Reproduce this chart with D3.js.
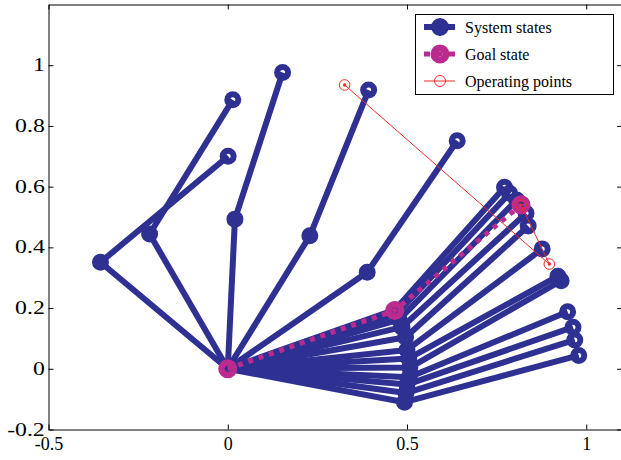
<!DOCTYPE html>
<html>
<head>
<meta charset="utf-8">
<script src="https://cdn.jsdelivr.net/npm/d3@7"></script>
<style>
  html, body { margin: 0; padding: 0; background: #fff; }
  svg { display: block; font-family: "Liberation Serif", "Times New Roman", serif; }
</style>
</head>
<body>
<svg id="chart" width="621" height="460"></svg>
<script>
// Two-link arm: elbow and hand position of each recorded system state
const elbowX = [-0.355, -0.218, 0.020, 0.229, 0.389, 0.466, 0.471, 0.478, 0.486, 0.496, 0.500, 0.505, 0.508, 0.506, 0.500, 0.497, 0.493];
const elbowY = [ 0.351,  0.444, 0.493, 0.438, 0.318, 0.194, 0.180, 0.162, 0.137, 0.104, 0.062, 0.034, 0.004, -0.028, -0.052, -0.080, -0.110];
const handX  = [ 0.001,  0.014, 0.153, 0.393, 0.640, 0.772, 0.786, 0.806, 0.832, 0.838, 0.877, 0.921, 0.930, 0.948, 0.963, 0.968, 0.979];
const handY  = [ 0.700,  0.886, 0.976, 0.918, 0.751, 0.598, 0.578, 0.556, 0.512, 0.470, 0.395, 0.305, 0.290, 0.188, 0.137, 0.095, 0.044];

// Goal configuration: base, elbow, hand
const goalX = [0, 0.466, 0.818];
const goalY = [0, 0.192, 0.540];

// Operating points
const opX = [0.326, 0.897, 0.818];
const opY = [0.935, 0.345, 0.540];

const xTicks = [-0.5, 0, 0.5, 1];
const xTickLabels = ["-0.5", "0", "0.5", "1"];
const yTicks = [-0.2, 0, 0.2, 0.4, 0.6, 0.8, 1];
const yTickLabels = ["-0.2", "0", "0.2", "0.4", "0.6", "0.8", "1"];
const legendLabels = ["System states", "Goal state", "Operating points"];

const blue = "#2e3192", magenta = "#bb2a8e", red = "#ee2a2a";

const svg = d3.select("#chart");
svg.append("rect").attr("width", 621).attr("height", 460).attr("fill", "#fff");

const x = d3.scaleLinear().domain([-0.5, 1.1]).range([48.5, 622.1]);
const y = d3.scaleLinear().domain([-0.2, 1.2]).range([429.5, 4.5]);

const line = d3.line().x(d => x(d[0])).y(d => y(d[1]));

// ---- system states ----
const states = elbowX.map((_, i) => [[0, 0], [elbowX[i], elbowY[i]], [handX[i], handY[i]]]);
const gStates = svg.append("g");
states.forEach(pts => {
  gStates.append("path")
    .attr("d", line(pts))
    .attr("fill", "none")
    .attr("stroke", blue)
    .attr("stroke-width", 6)
    .attr("stroke-linejoin", "round");
  gStates.selectAll(null).data(pts).enter().append("circle")
    .attr("cx", d => x(d[0])).attr("cy", d => y(d[1]))
    .attr("r", 5.5).attr("fill", "none")
    .attr("stroke", blue).attr("stroke-width", 6);
});

// ---- goal state ----
const goalPts = goalX.map((v, i) => [v, goalY[i]]);
svg.append("path")
  .attr("d", line(goalPts))
  .attr("fill", "none")
  .attr("stroke", magenta)
  .attr("stroke-width", 5)
  .attr("stroke-dasharray", "5,5.9");
svg.selectAll(null).data(goalPts).enter().append("circle")
  .attr("cx", d => x(d[0])).attr("cy", d => y(d[1]))
  .attr("r", 6.3).attr("fill", "none")
  .attr("stroke", magenta).attr("stroke-width", 6.5);

// ---- operating points ----
const opPts = opX.map((v, i) => [v, opY[i]]);
svg.append("path")
  .attr("d", line(opPts))
  .attr("fill", "none")
  .attr("stroke", red)
  .attr("stroke-width", 1);
svg.selectAll(null).data(opPts).enter().append("circle")
  .attr("cx", d => x(d[0])).attr("cy", d => y(d[1]))
  .attr("r", 5.3).attr("fill", "none")
  .attr("stroke", red).attr("stroke-width", 1);
svg.selectAll(null).data(opPts).enter().append("circle")
  .attr("cx", d => x(d[0])).attr("cy", d => y(d[1]))
  .attr("r", 1.7).attr("fill", red);

// ---- axes (box with inward ticks) ----
function styleAxis(g, size) {
  g.selectAll("path.domain").attr("stroke", "#000").attr("stroke-width", 1);
  g.selectAll(".tick line").attr("stroke", "#000").attr("stroke-width", 1);
  g.selectAll("text").attr("fill", "#000").attr("font-size", size || 18)
    .attr("font-family", "'Liberation Serif', 'Times New Roman', serif");
}

const xLab = d3.axisBottom(x).tickValues(xTicks)
  .tickFormat((d, i) => xTickLabels[i]).tickSizeInner(-5).tickSizeOuter(0).tickPadding(8);
const gx = svg.append("g").attr("transform", `translate(0,${y(-0.2)})`).call(xLab);
styleAxis(gx);
gx.selectAll("text").attr("y", 0).attr("dy", 20.5);

const gxTop = svg.append("g").attr("transform", `translate(0,${y(1.2)})`)
  .call(d3.axisTop(x).tickValues(xTicks).tickFormat("").tickSizeInner(-5).tickSizeOuter(0));
styleAxis(gxTop);

// y labels use a slightly wider face
const yLab = d3.axisLeft(y).tickValues(yTicks)
  .tickFormat((d, i) => yTickLabels[i]).tickSizeInner(-5).tickSizeOuter(0).tickPadding(3);
const gy = svg.append("g").attr("transform", `translate(${x(-0.5)},0)`).call(yLab);
styleAxis(gy, 19);
gy.selectAll("text").attr("dy", 5.5).attr("transform", "scale(1.25,1)");

const gyRight = svg.append("g").attr("transform", `translate(${x(1.1)},0)`)
  .call(d3.axisRight(y).tickValues(yTicks).tickFormat("").tickSizeInner(-5).tickSizeOuter(0));
styleAxis(gyRight);

// ---- legend ----
const lg = svg.append("g").attr("transform", "translate(415.5,14.5)");
lg.append("rect").attr("width", 198).attr("height", 80)
  .attr("fill", "#fff").attr("stroke", "#000").attr("stroke-width", 1);
const rowY = [12.5, 39.5, 66.5];
const sx0 = 8.5, sx1 = 39.5, sxm = 24.5;

// System states sample
lg.append("line").attr("x1", sx0).attr("x2", sx1).attr("y1", rowY[0]).attr("y2", rowY[0])
  .attr("stroke", blue).attr("stroke-width", 6);
lg.append("circle").attr("cx", sxm).attr("cy", rowY[0]).attr("r", 5.5)
  .attr("fill", "none").attr("stroke", blue).attr("stroke-width", 7);

// Goal state sample
lg.append("line").attr("x1", sx0).attr("x2", sx1).attr("y1", rowY[1]).attr("y2", rowY[1])
  .attr("stroke", magenta).attr("stroke-width", 5).attr("stroke-dasharray", "6,6.5");
lg.append("circle").attr("cx", sxm).attr("cy", rowY[1]).attr("r", 6)
  .attr("fill", "none").attr("stroke", magenta).attr("stroke-width", 7);

// Operating points sample
lg.append("line").attr("x1", sx0).attr("x2", sx1).attr("y1", rowY[2]).attr("y2", rowY[2])
  .attr("stroke", red).attr("stroke-width", 1);
lg.append("circle").attr("cx", sxm).attr("cy", rowY[2]).attr("r", 5.5)
  .attr("fill", "none").attr("stroke", red).attr("stroke-width", 1);

lg.selectAll("text.lbl").data(legendLabels).enter().append("text")
  .attr("class", "lbl")
  .attr("x", 49.5)
  .attr("y", (d, i) => rowY[i] + 5.5)
  .attr("font-size", 16)
  .attr("fill", "#000")
  .text(d => d);
</script>
</body>
</html>
